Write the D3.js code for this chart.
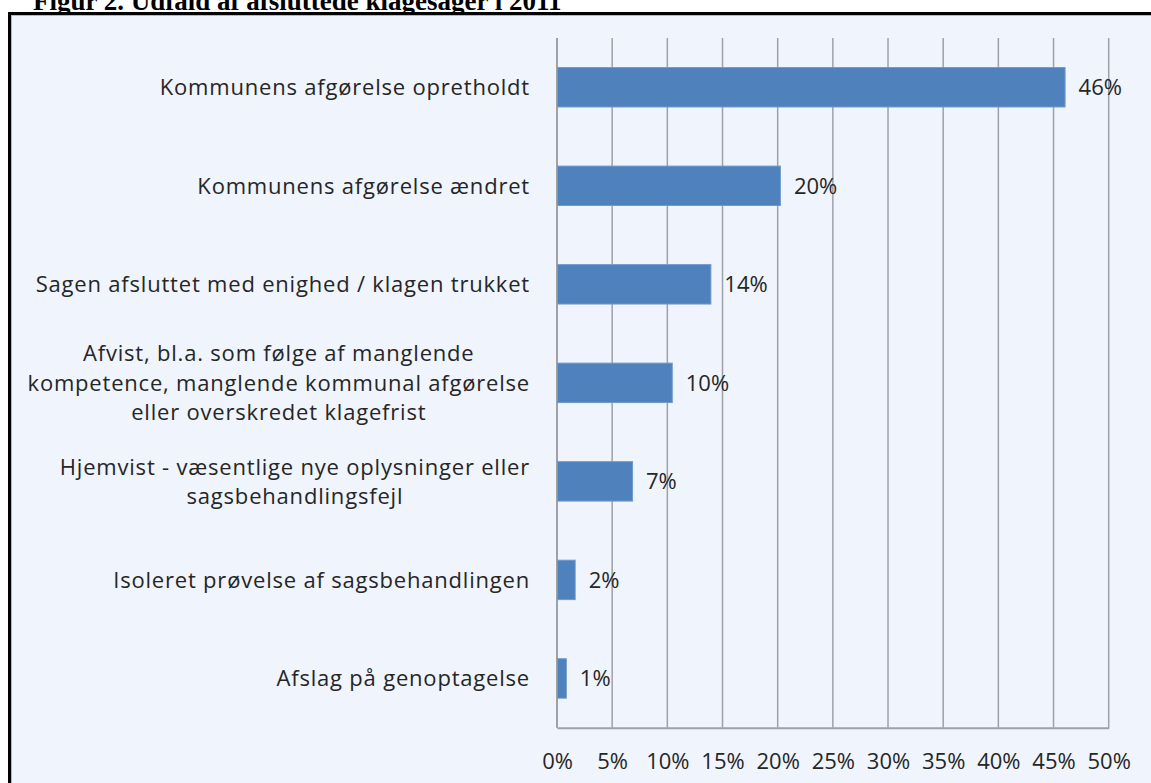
<!DOCTYPE html>
<html>
<head>
<meta charset="utf-8">
<script src="https://cdn.jsdelivr.net/npm/d3@7"></script>
<style>
  body { margin: 0; background: #fff; }
  svg { display: block; }
</style>
</head>
<body>
<svg id="chart_svg" width="1151" height="783"></svg>
<script>
// Udfald af afsluttede klagesager i 2011 (andel i procent)
const titleText = 'Figur 2. Udfald af afsluttede klagesager i 2011';
const categories = [
  'Kommunens afgørelse opretholdt',
  'Kommunens afgørelse ændret',
  'Sagen afsluttet med enighed / klagen trukket',
  'Afvist, bl.a. som følge af manglende\nkompetence, manglende kommunal afgørelse\neller overskredet klagefrist',
  'Hjemvist - væsentlige nye oplysninger eller\nsagsbehandlingsfejl',
  'Isoleret prøvelse af sagsbehandlingen',
  'Afslag på genoptagelse'
];
const values = [46.0, 20.2, 13.9, 10.4, 6.8, 1.6, 0.8];
const xTicks = [0, 5, 10, 15, 20, 25, 30, 35, 40, 45, 50];

const margin = {top: 38, left: 557, right: 42, bottom: 55};
const labelFont = '"Open Sans", "Noto Sans", sans-serif';

const svg = d3.select('#chart_svg');

// title (cut off at the top in the original)
svg.append('text')
  .attr('x', 33)
  .attr('y', 10)
  .attr('font-family', '"Liberation Serif", "Times New Roman", serif')
  .attr('font-weight', 'bold')
  .attr('font-size', 27)
  .attr('fill', '#000')
  .text(titleText);

// framed background
svg.append('rect')
  .attr('x', 9.5).attr('y', 13.5)
  .attr('width', 1160).attr('height', 800)
  .attr('fill', '#eff4fd')
  .attr('stroke', '#000')
  .attr('stroke-width', 3);
svg.append('rect')
  .attr('x', 11.5).attr('y', 15.5)
  .attr('width', 1160).attr('height', 800)
  .attr('fill', 'none')
  .attr('stroke', '#b4b8c0')
  .attr('stroke-width', 1);

const innerW = 1108.7 - margin.left;
const innerH = 727.7 - margin.top;

const xScale = d3.scaleLinear().domain([0, 50]).range([0, innerW]);
const yScale = d3.scaleBand()
  .domain(categories)
  .range([0, innerH])
  .paddingInner(0.6)
  .paddingOuter(0.3);

const g = svg.append('g').attr('transform', `translate(${margin.left},${margin.top})`);

// vertical gridlines
g.append('g')
  .selectAll('line')
  .data(xTicks)
  .join('line')
    .attr('x1', d => xScale(d)).attr('x2', d => xScale(d))
    .attr('y1', 0).attr('y2', innerH)
    .attr('stroke', '#9ea2a8')
    .attr('stroke-width', 1.5);

// x axis
const xAxis = g.append('g')
  .attr('transform', `translate(0,${innerH})`)
  .call(d3.axisBottom(xScale).tickValues(xTicks).tickSize(0).tickPadding(0).tickFormat(d => d + '%'));
xAxis.select('.domain').attr('stroke', '#9ea2a8').attr('stroke-width', 2);
xAxis.selectAll('text')
  .attr('dy', null)
  .attr('y', 41)
  .attr('font-family', labelFont)
  .attr('font-size', 22)
  .attr('fill', '#262626');

// left axis line
g.append('line')
  .attr('x1', 0).attr('x2', 0)
  .attr('y1', 0).attr('y2', innerH)
  .attr('stroke', '#9ea2a8')
  .attr('stroke-width', 2);

// bars
g.selectAll('.bar')
  .data(categories)
  .join('rect')
    .attr('class', 'bar')
    .attr('x', 0.5)
    .attr('y', d => yScale(d))
    .attr('width', (d, i) => xScale(values[i]))
    .attr('height', yScale.bandwidth())
    .attr('fill', '#4f81bd')
    .attr('stroke', '#6f98cc')
    .attr('stroke-width', 1);

// value labels
g.selectAll('.val')
  .data(categories)
  .join('text')
    .attr('class', 'val')
    .attr('x', (d, i) => xScale(values[i]) + 14)
    .attr('y', d => yScale(d) + yScale.bandwidth() / 2)
    .attr('dy', '0.36em')
    .attr('font-family', labelFont)
    .attr('font-size', 22)
    .attr('fill', '#262626')
    .text((d, i) => d3.format('.0f')(values[i]) + '%');

// category labels: centred block, right edge 27px left of the axis
const lineH = 29.5;
categories.forEach(cat => {
  const lines = cat.split('\n');
  const cy = margin.top + yScale(cat) + yScale.bandwidth() / 2;
  const t = svg.append('text')
    .attr('font-family', labelFont)
    .attr('font-size', 22)
    .attr('letter-spacing', 0.8)
    .attr('fill', '#262626')
    .attr('text-anchor', 'middle');
  lines.forEach((ln, k) => {
    t.append('tspan')
      .attr('x', 0)
      .attr('y', cy + (k - (lines.length - 1) / 2) * lineH)
      .attr('dy', '0.36em')
      .text(ln);
  });
  let maxW = 0;
  t.selectAll('tspan').each(function() { maxW = Math.max(maxW, this.getComputedTextLength()); });
  t.attr('transform', `translate(${margin.left - 27 - maxW / 2},0)`);
});
</script>
</body>
</html>
